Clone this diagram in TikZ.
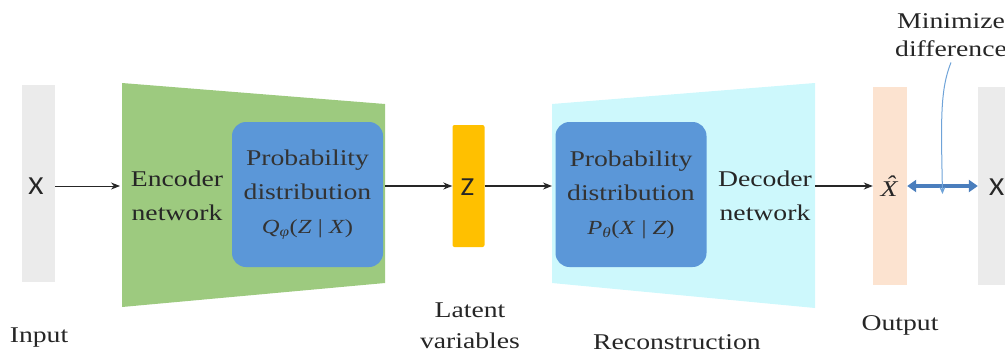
\documentclass[tikz,border=0pt]{standalone}
\usepackage{fontspec}
\setmainfont{Liberation Serif}[FakeStretch=1.23]
\newfontfamily\sansf{Carlito}[FakeStretch=1.12]
\usetikzlibrary{arrows.meta}
\definecolor{barGray}{HTML}{EBEBEB}
\definecolor{encGreen}{HTML}{9DCA7F}
\definecolor{probBlue}{HTML}{5B97D8}
\definecolor{latOrange}{HTML}{FFC000}
\definecolor{decCyan}{HTML}{CDF8FC}
\definecolor{outPeach}{HTML}{FCE3D0}
\definecolor{diffBlue}{HTML}{4A7EBD}
\definecolor{noteBlue}{HTML}{6FA3D8}
\tikzset{
  lbl/.style={font=\fontsize{22.5}{34}\selectfont, align=center, inner sep=0pt, text=black!85},
  bar/.style={inner sep=0pt, minimum width=#1},
  probbox/.style={fill=probBlue, rounded corners=14pt, minimum width=151pt, minimum height=145pt,
    inner sep=0pt, align=center, font=\fontsize{22.5}{34}\selectfont, text=black!80},
  sanslbl/.style={font=\sansf\fontsize{26}{30}\selectfont, inner sep=0pt, text=black!85},
  flow/.style={draw=black!85, line width=1.3pt, -{Stealth[length=9pt,width=7pt]}},
}
\begin{document}
\begin{tikzpicture}[x=1pt,y=-1pt]
\useasboundingbox (0,0) rectangle (1005,354);
\clip (0,0) rectangle (1005,354);
% bars
\node[bar=33pt, fill=barGray, minimum height=197pt] (inbar) at (38.5,183.5) {};
\node[bar=32pt, fill=latOrange, rounded corners=2pt, minimum height=122pt] (zbar) at (468.5,186) {};
\node[bar=34pt, fill=outPeach, minimum height=198pt] (outbar) at (890,186) {};
\node[bar=34pt, fill=barGray, minimum height=198pt] (gtbar) at (995,186) {};
% trapezoids
\fill[encGreen] (122,83) -- (385,104) -- (385,283) -- (122,307) -- cycle;
\fill[decCyan] (552,104) -- (815,83) -- (815,308) -- (552,283) -- cycle;
% probability boxes
\node[probbox] (enc) at (307.5,194.5) {Probability\\distribution\\
  {\fontsize{20}{24}\selectfont\textit{Q}\textsubscript{\textit{φ}}(\textit{Z} | \textit{X})}};
\node[probbox] (dec) at (631,194.5) {Probability\\distribution\\
  {\fontsize{20}{24}\selectfont\textit{P}\textsubscript{\textit{θ}}(\textit{X} | \textit{Z})}};
% texts
\node[sanslbl, anchor=base] (xin) at (36,194) {X};
\node[sanslbl, anchor=base] (z) at (467.5,195) {Z};
\node[lbl, anchor=base] (xhat) at (889,196) {\itshape\accent"02C6 X};
\node[sanslbl, anchor=base west] (xgt) at (989,195) {X};
\node[lbl, anchor=base] (enctxt) at (177,220) {Encoder\\network};
\node[lbl, anchor=base] (dectxt) at (765,220) {Decoder\\network};
\node[lbl, anchor=base, font=\fontsize{22.5}{28}\selectfont] (minim) at (951,56) {Minimize\\difference};
\node[lbl, anchor=base] (inlbl) at (39,342) {Input};
\node[lbl, anchor=base, font=\fontsize{22.5}{31}\selectfont] (latlbl) at (470,348) {Latent\\variables};
\node[lbl, anchor=base] (reclbl) at (677,349) {Reconstruction};
\node[lbl, anchor=base] (outlbl) at (900,330) {Output};
% connectors
\coordinate (encin) at (120,186);
\draw[flow, line width=0.9pt] (inbar.east |- 0,186) -- (encin);
\draw[flow] (385,186) -- (zbar.west);
\draw[flow] (zbar.east) -- (552,186);
\draw[flow] (815,186) -- (outbar.west);
\draw[diffBlue, line width=4.5pt, {Triangle[length=9pt,width=12pt]}-{Triangle[length=9pt,width=12pt]}]
  (outbar.east) -- (gtbar.west) coordinate[pos=0.5] (mid);
\draw[noteBlue, line width=1pt, -{Stealth[length=7pt,width=6pt]}]
  (minim.south) ++(0,6) .. controls (940,90) and (941,120) .. ([yshift=-8pt]mid);
\end{tikzpicture}
\end{document}
